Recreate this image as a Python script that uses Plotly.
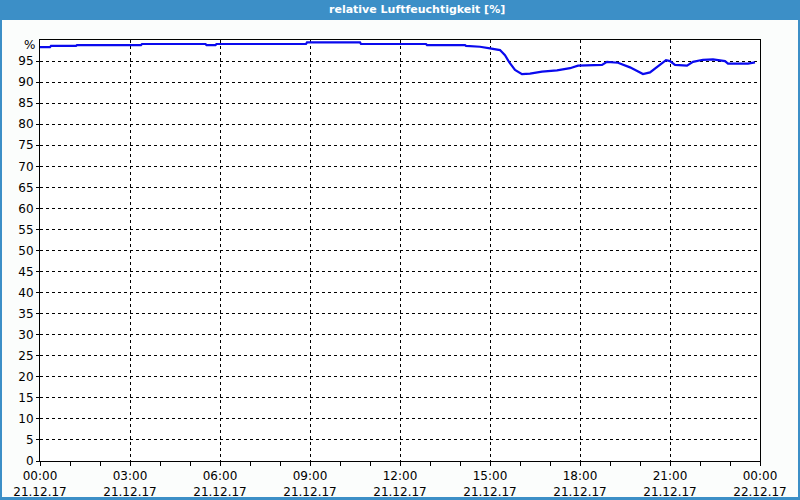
import plotly.graph_objects as go

times = ["00:00", "00:20", "00:22", "01:12", "01:14", "03:22", "03:24", "05:31", "05:33",
         "05:51", "05:53", "08:52", "08:54", "10:40", "10:42", "12:52", "12:54", "14:10",
         "14:12", "14:40", "15:00", "15:20", "15:30", "15:38", "15:50", "16:04", "16:20",
         "16:44", "17:14", "17:40", "17:56", "18:44", "18:54", "19:16", "19:40", "20:06",
         "20:20", "20:40", "20:52", "21:00", "21:10", "21:34", "21:46", "22:06", "22:26",
         "22:50", "22:56", "23:36", "23:50"]
humidity = [98.3, 98.3, 98.6, 98.6, 98.8, 98.8, 99.05, 99.05, 98.8,
            98.8, 99.05, 99.05, 99.45, 99.45, 99.05, 99.05, 98.8, 98.8,
            98.6, 98.4, 98.0, 97.6, 96.4, 94.8, 92.9, 91.9, 92.0,
            92.5, 92.8, 93.3, 93.9, 94.1, 94.8, 94.6, 93.5, 91.9,
            92.3, 94.1, 95.2, 95.0, 94.1, 93.9, 94.8, 95.3, 95.4,
            95.0, 94.4, 94.4, 94.7]
y_ticks = list(range(0, 100, 5))
title_text = "relative Luftfeuchtigkeit [%]"
unit_label = "%"

x_vals = ["2017-12-21 " + t for t in times]

W, H = 800, 500
L, R, T, B = 40, 40, 40, 39
pw, ph = W - L - R, H - T - B

def px(x):
    return (x - L) / pw

def py(y):
    return 1 - (y - T) / ph

blue = "#3c8fc7"
font = "DejaVu Sans"

fig = go.Figure()
fig.add_trace(go.Scatter(x=x_vals, y=humidity, mode="lines",
                         line=dict(color="#0a0aee", width=2.2), hoverinfo="skip"))

shapes = [
    dict(type="rect", xref="paper", yref="paper", x0=px(0), x1=px(800), y0=py(20), y1=py(0),
         fillcolor=blue, line=dict(width=0), layer="below"),
    dict(type="rect", xref="paper", yref="paper", x0=px(0), x1=px(2), y0=py(500), y1=py(0),
         fillcolor=blue, line=dict(width=0), layer="below"),
    dict(type="rect", xref="paper", yref="paper", x0=px(798), x1=px(800), y0=py(500), y1=py(0),
         fillcolor=blue, line=dict(width=0), layer="below"),
    dict(type="rect", xref="paper", yref="paper", x0=px(0), x1=px(800), y0=py(500), y1=py(497),
         fillcolor=blue, line=dict(width=0), layer="below"),
]

fig.update_layout(
    width=W, height=H,
    margin=dict(l=L, r=R, t=T, b=B, pad=0, autoexpand=False),
    paper_bgcolor="#fbfdfc",
    plot_bgcolor="#ffffff",
    showlegend=False,
    shapes=shapes,
    font=dict(family=font, size=11, color="#000000"),
    annotations=[
        dict(text="<b>" + title_text + "</b>", xref="paper", yref="paper", x=px(417), y=py(10),
             xanchor="center", yanchor="middle", showarrow=False,
             font=dict(family=font, size=11, color="#ffffff")),
        dict(text=unit_label, xref="paper", yref="paper", x=px(37), y=py(45),
             xanchor="right", yanchor="middle", showarrow=False,
             font=dict(family=font, size=12, color="#000000")),
    ],
)

fig.update_xaxes(
    type="date",
    range=["2017-12-21 00:00", "2017-12-22 00:00"],
    dtick=3 * 3600 * 1000,
    tick0="2017-12-21 00:00",
    tickformat="%H:%M<br>%d.%m.%y",
    showgrid=True, gridcolor="#000000", griddash="3px,3px", gridwidth=1,
    showline=True, linecolor="#000000", linewidth=1, mirror=True,
    ticks="outside", ticklen=4, tickcolor="#000000",
    minor=dict(dtick=3600 * 1000, ticks="outside", ticklen=4, tickcolor="#000000", showgrid=False),
    zeroline=False, fixedrange=True, automargin=False,
    tickfont=dict(family=font, size=12),
)
fig.update_yaxes(
    range=[0, 100],
    tickvals=y_ticks,
    showgrid=True, gridcolor="#000000", griddash="3px,3px", gridwidth=1,
    showline=True, linecolor="#000000", linewidth=1, mirror=True,
    ticks="outside", ticklen=3, tickcolor="#000000",
    zeroline=False, fixedrange=True, automargin=False,
    tickfont=dict(family=font, size=12),
)

fig.write_html("out.html")
